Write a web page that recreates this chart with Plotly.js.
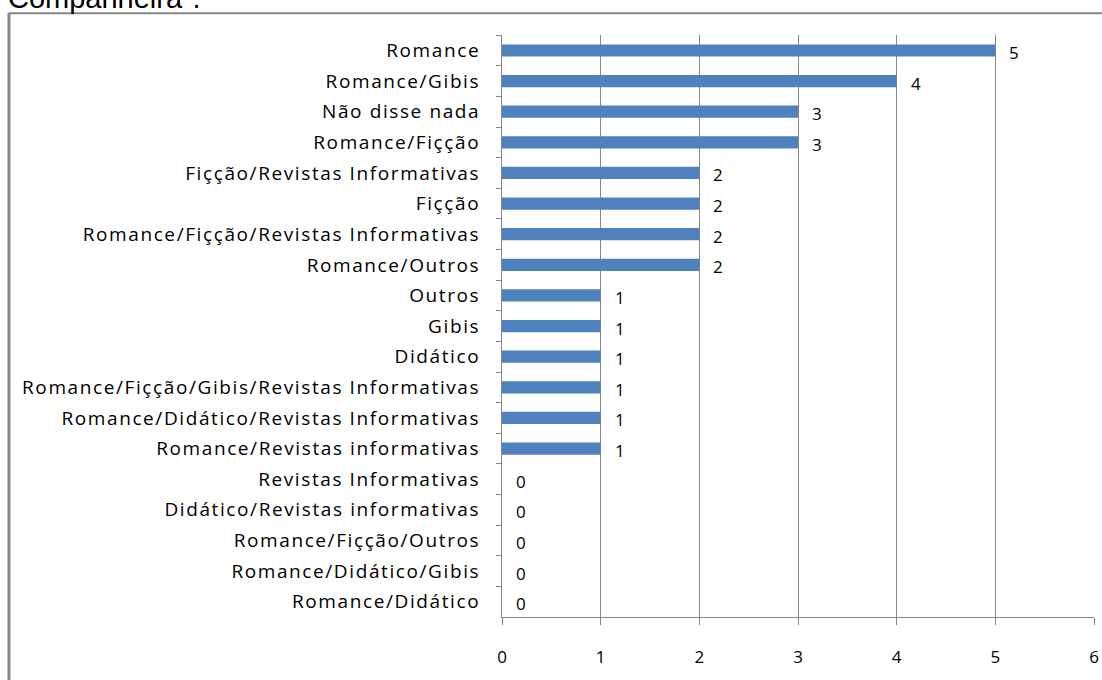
<!DOCTYPE html>
<html>
<head>
<meta charset="utf-8">
<script src="https://cdn.plot.ly/plotly-3.0.1.min.js"></script>
<style>
  html, body { margin: 0; padding: 0; background: #ffffff; }
  #chart { width: 1102px; height: 680px; }
  /* wider tracking for the category names */
  #chart .ytick text { letter-spacing: 1.6px; }
</style>
</head>
<body>
<div id="chart"></div>
<script>
// Reading preferences, listed top to bottom
const categories = [
  "Romance",
  "Romance/Gibis",
  "Não disse nada",
  "Romance/Fiçção",
  "Fiçção/Revistas Informativas",
  "Fiçção",
  "Romance/Fiçção/Revistas Informativas",
  "Romance/Outros",
  "Outros",
  "Gibis",
  "Didático",
  "Romance/Fiçção/Gibis/Revistas Informativas",
  "Romance/Didático/Revistas Informativas",
  "Romance/Revistas informativas",
  "Revistas Informativas",
  "Didático/Revistas informativas",
  "Romance/Fiçção/Outros",
  "Romance/Didático/Gibis",
  "Romance/Didático"
];
const counts = [5, 4, 3, 3, 2, 2, 2, 2, 1, 1, 1, 1, 1, 1, 0, 0, 0, 0, 0];
const xTicks = [0, 1, 2, 3, 4, 5, 6];
const captionText = "Companheira\".";

const labelFont = "Open Sans, sans-serif";
const gray = "#868686";

const trace = {
  type: "bar",
  orientation: "h",
  y: categories,
  x: counts,
  marker: { color: "#4F81BD" },
  hoverinfo: "x+y"
};

// value labels just right of each bar end
const valueNotes = categories.map((c, i) => ({
  x: counts[i], y: c, xref: "x", yref: "y",
  text: String(counts[i]),
  showarrow: false, xanchor: "left", yanchor: "middle",
  xshift: 12, yshift: -2,
  font: { family: labelFont, size: 17, color: "#000000" }
}));

// caption line above the framed chart
valueNotes.push({
  x: -0.8378, y: 1.0318, xref: "paper", yref: "paper",
  text: captionText, showarrow: false,
  xanchor: "left", yanchor: "bottom",
  font: { family: "Liberation Sans, Arial, sans-serif", size: 29, color: "#000000" }
});

const layout = {
  width: 1102, height: 680,
  margin: { l: 502, r: 8, t: 35, b: 63, pad: 0 },
  paper_bgcolor: "#ffffff",
  plot_bgcolor: "#ffffff",
  showlegend: false,
  bargap: 0.6,
  xaxis: {
    range: [0, 6],
    tickvals: xTicks,
    ticktext: xTicks.map(String),
    showgrid: true, gridcolor: gray, gridwidth: 1,
    zeroline: false,
    showline: true, linecolor: gray, linewidth: 1,
    ticks: "outside", ticklen: 7, tickcolor: gray,
    ticklabelstandoff: 18,
    tickfont: { family: labelFont, size: 17, color: "#000000" },
    fixedrange: true
  },
  yaxis: {
    type: "category",
    autorange: "reversed",
    showgrid: false, zeroline: false,
    showline: true, linecolor: gray, linewidth: 1,
    ticks: "outside", ticklen: 5, tickcolor: gray,
    tickson: "boundaries",
    ticklabelstandoff: 17,
    tickfont: { family: labelFont, size: 19, color: "#000000" },
    fixedrange: true
  },
  annotations: valueNotes,
  shapes: [
    { type: "line", xref: "paper", yref: "paper",
      x0: -0.8328, x1: -0.8328, y0: 1.038, y1: -0.2,
      line: { color: gray, width: 3 } },
    { type: "line", xref: "paper", yref: "paper",
      x0: -0.8328, x1: 1.02, y0: 1.0375, y1: 1.0375,
      line: { color: gray, width: 2 } }
  ]
};

Plotly.newPlot("chart", [trace], layout, { displayModeBar: false, staticPlot: true });
</script>
</body>
</html>
